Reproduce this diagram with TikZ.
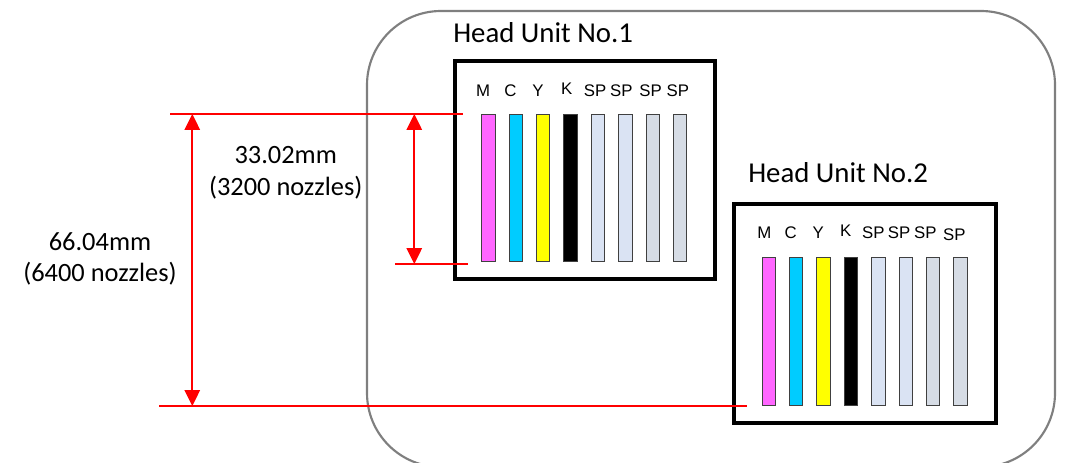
\documentclass[tikz,border=0pt]{standalone}
\usepackage{fontspec}
\setmainfont{Carlito}
\newfontfamily\labfont{Liberation Sans}
\usetikzlibrary{arrows.meta}
\definecolor{cM}{HTML}{FF66FF}
\definecolor{cC}{HTML}{00CCFF}
\definecolor{cY}{HTML}{FFFF00}
\definecolor{cK}{HTML}{000000}
\definecolor{cSa}{HTML}{DAE3F3}
\definecolor{cSb}{HTML}{D6DCE5}
\definecolor{frame}{HTML}{7F7F7F}
\definecolor{barline}{HTML}{404040}
\tikzset{
  unitbox/.style={draw=black, line width=3pt, minimum width=#1, minimum height=163.8pt, inner sep=0pt},
  bar/.style={draw=barline, line width=0.8pt, fill=#1, minimum width=10pt, minimum height=110.5pt, inner sep=0pt},
  lab/.style={font=\labfont\fontsize{12.6}{14}\selectfont, anchor=base, inner sep=0pt},
  title/.style={font=\fontsize{21.6}{25}\selectfont, anchor=base west, inner sep=0pt},
  dimtext/.style={font=\fontsize{19.8}{24.5}\selectfont, anchor=base, inner sep=0pt},
  ext/.style={draw=red, line width=1.1pt},
  dimarrow/.style={draw=red, line width=1.5pt, {Triangle[width=11.5pt,length=12pt]}-{Triangle[width=11.5pt,length=12pt]}}
}
\begin{document}
\begin{tikzpicture}[x=0.75pt, y=-0.75pt]
\useasboundingbox (0,0) rectangle (1066,463);
\clip (0,0) rectangle (1066,463);
% outer frame
\draw[frame, line width=1.6pt, rounded corners=55.5pt] (367,11) rectangle (1055,467);

% head unit 1
\node[unitbox=195pt] (hu1) at (585,170) {};
\node[title] (t1) at (453,43) {Head Unit No.1};
\foreach \i/\c/\l/\lx/\ly in {0/cM/M/483/96.7, 1/cC/C/510.5/96.7, 2/cY/Y/538/96.7, 3/cK/K/566.7/95, 4/cSa/SP/595/96.7, 5/cSa/SP/621.3/96.7, 6/cSb/SP/650.5/96.7, 7/cSb/SP/677.8/96.7}{
  \node[bar=\c] (a\i) at ({488.4+27.4*\i},188) {};
  \node[lab] (la\i) at (\lx,\ly) {\l};
}

% head unit 2
\node[unitbox=196.5pt] (hu2) at (865,313.5) {};
\node[title] (t2) at (748,182.7) {Head Unit No.2};
\foreach \i/\c/\l/\lx/\ly in {0/cM/M/764.3/238.3, 1/cC/C/790.7/238.3, 2/cY/Y/818.3/238.3, 3/cK/K/845.7/236.7, 4/cSa/SP/873.3/238.3, 5/cSa/SP/899/238.3, 6/cSb/SP/925.3/238.3, 7/cSb/SP/954.3/240}{
  \node[bar=\c] (b\i) at ({768.8+27.4*\i},331.5) {};
  \node[lab] (lb\i) at (\lx,\ly) {\l};
}

% dimension lines
\coordinate (e1a) at (170,114);
\coordinate (e1b) at (463.3,114);
\coordinate (e2a) at (395,264);
\coordinate (e2b) at (468.3,264);
\coordinate (e3a) at (159,406);
\coordinate (e3b) at (746.7,406);
\coordinate (bigtop) at (192.3,114);
\coordinate (bigbot) at (192.3,406);
\coordinate (smtop) at (414.3,114);
\coordinate (smbot) at (414.3,264);
\draw[ext] (e1a) -- (e1b);
\draw[ext] (e2a) -- (e2b);
\draw[ext] (e3a) -- (e3b);
\draw[dimarrow] (bigtop) -- (bigbot);
\draw[dimarrow] (smtop) -- (smbot);

\node[dimtext] (d1a) at (285.7,163.3) {33.02mm};
\node[dimtext] (d1b) at (285.7,196) {(3200 nozzles)};
\node[dimtext] (d2a) at (100,250) {66.04mm};
\node[dimtext] (d2b) at (100,281.7) {(6400 nozzles)};
\end{tikzpicture}
\end{document}
